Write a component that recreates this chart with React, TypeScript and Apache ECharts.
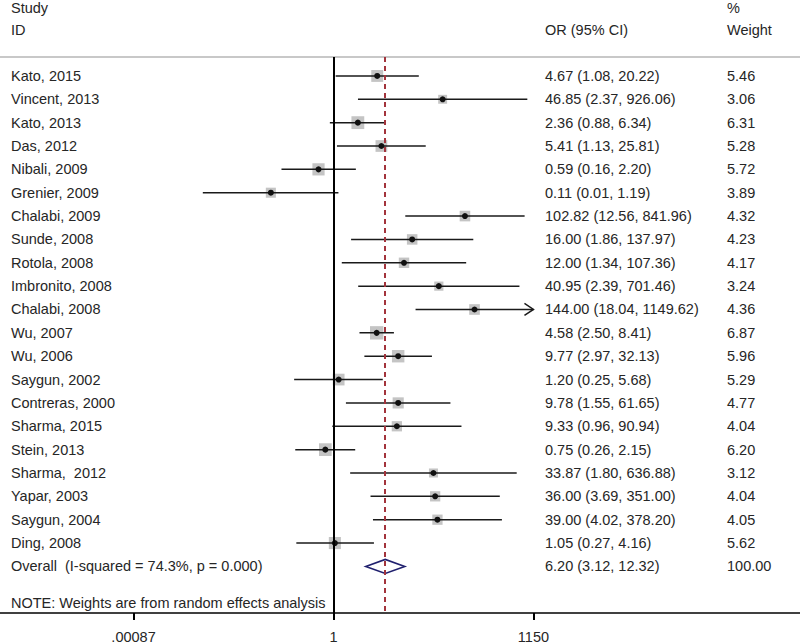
import React, { useEffect, useRef } from "react";
import * as echarts from "echarts";

const studies = [
  "Kato, 2015", "Vincent, 2013", "Kato, 2013", "Das, 2012", "Nibali, 2009",
  "Grenier, 2009", "Chalabi, 2009", "Sunde, 2008", "Rotola, 2008", "Imbronito, 2008",
  "Chalabi, 2008", "Wu, 2007", "Wu, 2006", "Saygun, 2002", "Contreras, 2000",
  "Sharma, 2015", "Stein, 2013", "Sharma,  2012", "Yapar, 2003", "Saygun, 2004", "Ding, 2008",
];
const orValues = [4.67, 46.85, 2.36, 5.41, 0.59, 0.11, 102.82, 16.0, 12.0, 40.95, 144.0, 4.58, 9.77, 1.2, 9.78, 9.33, 0.75, 33.87, 36.0, 39.0, 1.05];
const ciLower = [1.08, 2.37, 0.88, 1.13, 0.16, 0.01, 12.56, 1.86, 1.34, 2.39, 18.04, 2.5, 2.97, 0.25, 1.55, 0.96, 0.26, 1.8, 3.69, 4.02, 0.27];
const ciUpper = [20.22, 926.06, 6.34, 25.81, 2.2, 1.19, 841.96, 137.97, 107.36, 701.46, 1149.62, 8.41, 32.13, 5.68, 61.65, 90.94, 2.15, 636.88, 351.0, 378.2, 4.16];
const weights = [5.46, 3.06, 6.31, 5.28, 5.72, 3.89, 4.32, 4.23, 4.17, 3.24, 4.36, 6.87, 5.96, 5.29, 4.77, 4.04, 6.2, 3.12, 4.04, 4.05, 5.62];

const overallLabel = "Overall  (I-squared = 74.3%, p = 0.000)";
const overallOR = 6.2;
const overallLower = 3.12;
const overallUpper = 12.32;
const overallWeight = 100.0;

const tickValues = [0.00087, 1, 1150];
const tickLabels = [".00087", "1", "1150"];

const headerStudy = "Study";
const headerID = "ID";
const headerOR = "OR (95% CI)";
const headerPct = "%";
const headerWeight = "Weight";
const noteText = "NOTE: Weights are from random effects analysis";

const FONT = '"Liberation Sans", Arial, Helvetica, sans-serif';
const FS = 14.5;
const TXT = "#262626";
const COL_STUDY = 11;
const COL_OR = 545;
const COL_W = 727;

const lg = (v: number) => Math.log10(v);
const fmt = (v: number) => v.toFixed(2);

function textEl(text: string, x: number, y: number) {
  return {
    type: "text",
    x,
    y,
    style: { text, fill: TXT, fontSize: FS, fontFamily: FONT, align: "left", verticalAlign: "middle" },
  };
}

export default function App() {
  const ref = useRef<HTMLDivElement>(null);
  useEffect(() => {
    if (!ref.current) return;
    const chart = echarts.init(ref.current, undefined, { renderer: "svg" });
    const xMin = -5.104;
    const xMax = 7.14;
    const studyData = studies.map((_, i) => [lg(orValues[i]), i, lg(ciLower[i]), lg(ciUpper[i]), weights[i]]);
    const capLog = lg(tickValues[tickValues.length - 1]);

    const option: any = {
      animation: false,
      grid: { left: 0, right: 0, top: 57, bottom: 29, containLabel: false },
      xAxis: [
        {
          type: "value",
          min: xMin,
          max: xMax,
          position: "bottom",
          axisLine: { show: true, onZero: false, lineStyle: { color: "#000", width: 1.5 } },
          axisTick: {
            show: true,
            length: 7,
            inside: false,
            customValues: tickValues.map(lg),
            lineStyle: { color: "#000", width: 2 },
          },
          axisLabel: {
            show: true,
            customValues: tickValues.map(lg),
            margin: 16,
            color: TXT,
            fontSize: FS,
            fontFamily: FONT,
            formatter: (v: number) => {
              let best = 0;
              tickValues.forEach((t, k) => {
                if (Math.abs(lg(t) - v) < Math.abs(lg(tickValues[best]) - v)) best = k;
              });
              return tickLabels[best];
            },
          },
          splitLine: { show: false },
        },
        {
          type: "value",
          min: xMin,
          max: xMax,
          position: "top",
          axisLine: { show: true, onZero: false, lineStyle: { color: "#c8c8c8", width: 2 } },
          axisTick: { show: false },
          axisLabel: { show: false },
          splitLine: { show: false },
        },
      ],
      yAxis: {
        type: "value",
        inverse: true,
        min: -0.8106,
        max: 22.995,
        show: false,
        splitLine: { show: false },
      },
      graphic: [
        textEl(headerStudy, COL_STUDY, 8),
        textEl(headerID, COL_STUDY, 30),
        textEl(headerOR, COL_OR, 30),
        textEl(headerPct, COL_W, 8),
        textEl(headerWeight, COL_W, 30),
        textEl(noteText, COL_STUDY, 603),
      ],
      series: [
        {
          type: "custom",
          xAxisIndex: 0,
          yAxisIndex: 0,
          data: studyData,
          encode: { x: 0, y: 1 },
          clip: false,
          z: 2,
          renderItem: (params: any, api: any) => {
            const i = params.dataIndex;
            const row = api.value(1);
            const [cx, cy] = api.coord([api.value(0), row]);
            const xl = api.coord([api.value(2), row])[0];
            const xh = api.coord([Math.min(api.value(3), capLog), row])[0];
            const s = 5.1 * Math.sqrt(api.value(4));
            const children: any[] = [
              {
                type: "rect",
                shape: { x: cx - s / 2, y: cy - s / 2, width: s, height: s },
                style: { fill: "#c4c4c4" },
              },
              {
                type: "line",
                shape: { x1: xl, y1: cy, x2: xh, y2: cy },
                style: { stroke: "#1a1a1a", lineWidth: 1.5 },
              },
              {
                type: "circle",
                shape: { cx, cy, r: 3 },
                style: { fill: "#111" },
              },
              textEl(studies[i], COL_STUDY, cy),
              textEl(`${fmt(orValues[i])} (${fmt(ciLower[i])}, ${fmt(ciUpper[i])})`, COL_OR, cy),
              textEl(fmt(weights[i]), COL_W, cy),
            ];
            if (api.value(3) >= capLog - 0.001) {
              children.push({
                type: "polyline",
                shape: { points: [[xh - 9, cy - 6], [xh, cy], [xh - 9, cy + 6]] },
                style: { stroke: "#1a1a1a", lineWidth: 1.5, fill: "none" },
              });
            }
            return { type: "group", children };
          },
          markLine: {
            silent: true,
            symbol: "none",
            label: { show: false },
            data: [
              { xAxis: 0, lineStyle: { color: "#000", width: 2, type: "solid" } },
              { xAxis: lg(overallOR), lineStyle: { color: "#a3343c", width: 2, type: [5, 4] } },
            ],
          },
        },
        {
          type: "custom",
          xAxisIndex: 0,
          yAxisIndex: 0,
          data: [[lg(overallOR), studies.length, lg(overallLower), lg(overallUpper)]],
          encode: { x: 0, y: 1 },
          clip: false,
          z: 3,
          renderItem: (params: any, api: any) => {
            const row = api.value(1);
            const [cx, cy] = api.coord([api.value(0), row]);
            const xl = api.coord([api.value(2), row])[0];
            const xh = api.coord([api.value(3), row])[0];
            const h = 7;
            return {
              type: "group",
              children: [
                {
                  type: "polygon",
                  shape: { points: [[xl, cy], [cx, cy - h], [xh, cy], [cx, cy + h]] },
                  style: { stroke: "#20206e", lineWidth: 1.6, fill: "none" },
                },
                textEl(overallLabel, COL_STUDY, cy),
                textEl(`${fmt(overallOR)} (${fmt(overallLower)}, ${fmt(overallUpper)})`, COL_OR, cy),
                textEl(overallWeight.toFixed(2), COL_W, cy),
              ],
            };
          },
        },
      ],
    };
    chart.setOption(option);
    return () => chart.dispose();
  }, []);
  return (
    <div
      ref={ref}
      style={{ position: "absolute", left: 0, top: 0, width: 800, height: 644, background: "#fff" }}
    />
  );
}
